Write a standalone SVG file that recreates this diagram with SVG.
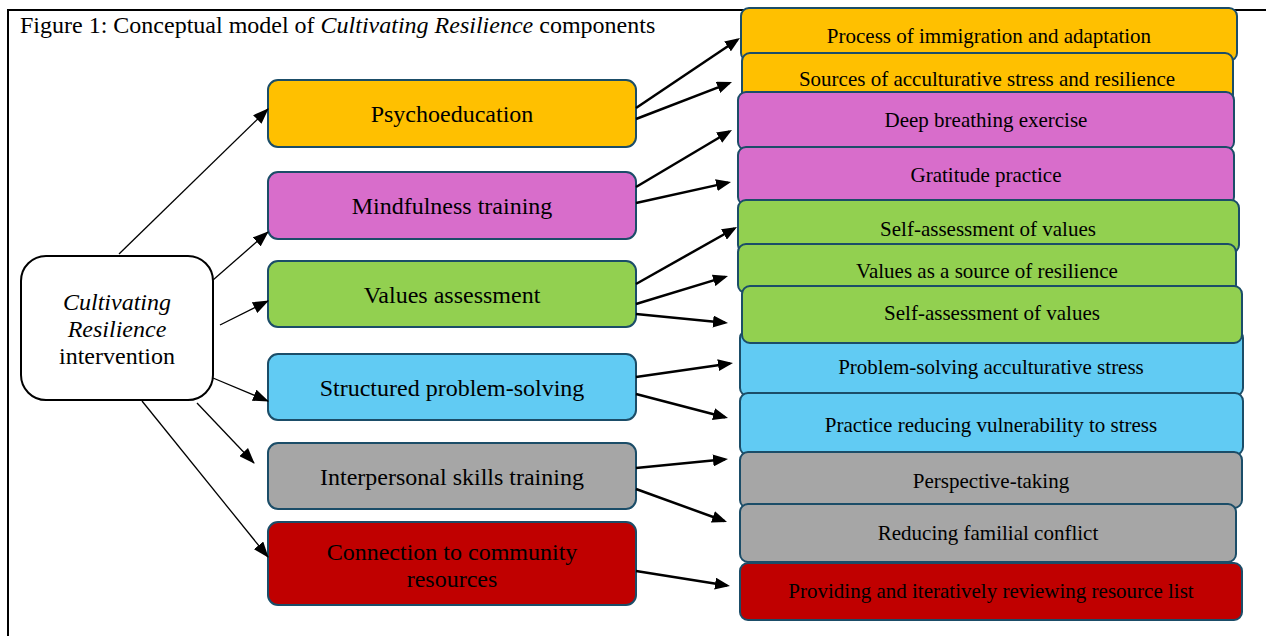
<svg xmlns="http://www.w3.org/2000/svg" width="1266" height="636" viewBox="0 0 1266 636">
  <style>
    text { font-family: "Liberation Serif", "Times New Roman", serif; fill: #000; }
    .title { font-size: 24px; }
    .hub { font-size: 24px; text-anchor: middle; }
    .mid { font-size: 24px; text-anchor: middle; }
    .sub { font-size: 21px; text-anchor: middle; }
    .box { stroke: #1B4D68; stroke-width: 2; }
    .orange { fill: #FFC000; }
    .pink { fill: #D86DCB; }
    .green { fill: #92D050; }
    .blue { fill: #61CBF3; }
    .grey { fill: #A6A6A6; }
    .red { fill: #C00000; }
    .thin { stroke: #000; stroke-width: 1.3; fill: none; marker-end: url(#headThin); }
    .thick { stroke: #000; stroke-width: 2.5; fill: none; marker-end: url(#headThick); }
  </style>
  <defs>
    <marker id="headThin" viewBox="0 0 16 12" refX="15" refY="6" markerWidth="16" markerHeight="12" markerUnits="userSpaceOnUse" orient="auto">
      <path d="M0,0 L16,6 L0,12 z" fill="#000"/>
    </marker>
    <marker id="headThick" viewBox="0 0 15 12" refX="12" refY="6" markerWidth="15" markerHeight="12" markerUnits="userSpaceOnUse" orient="auto">
      <path d="M0,0 L15,6 L0,12 z" fill="#000"/>
    </marker>
  </defs>

  <rect width="1266" height="636" fill="#fff"/>
  <!-- figure frame -->
  <path d="M8,636 V10 H1266" fill="none" stroke="#000" stroke-width="2"/>

  <text class="title" x="20" y="33">Figure 1: Conceptual model of <tspan font-style="italic">Cultivating Resilience</tspan> components</text>

  <!-- central intervention node -->
  <g id="hub">
    <rect x="21" y="256" width="192" height="144" rx="25" fill="#fff" stroke="#000" stroke-width="2"/>
    <text class="hub" x="117" y="310" font-style="italic">Cultivating</text>
    <text class="hub" x="117" y="337" font-style="italic">Resilience</text>
    <text class="hub" x="117" y="364">intervention</text>
  </g>

  <!-- component nodes -->
  <g id="psychoeducation">
    <rect class="box orange" x="268" y="80" width="368" height="67" rx="10"/>
    <text class="mid" x="452" y="122">Psychoeducation</text>
  </g>
  <g id="mindfulness">
    <rect class="box pink" x="268" y="172" width="368" height="67" rx="10"/>
    <text class="mid" x="452" y="214">Mindfulness training</text>
  </g>
  <g id="values">
    <rect class="box green" x="268" y="261" width="368" height="66" rx="10"/>
    <text class="mid" x="452" y="303">Values assessment</text>
  </g>
  <g id="problem-solving">
    <rect class="box blue" x="268" y="354" width="368" height="66" rx="10"/>
    <text class="mid" x="452" y="396">Structured problem-solving</text>
  </g>
  <g id="interpersonal">
    <rect class="box grey" x="268" y="443" width="368" height="66" rx="10"/>
    <text class="mid" x="452" y="485">Interpersonal skills training</text>
  </g>
  <g id="community">
    <rect class="box red" x="268" y="522" width="368" height="83" rx="10"/>
    <text class="mid" x="452" y="560">Connection to community</text>
    <text class="mid" x="452" y="587">resources</text>
  </g>

  <!-- activity nodes (stacked, each overlapping the one above) -->
  <g id="activity-immigration">
    <rect class="box orange" x="741" y="8" width="496" height="53" rx="8"/>
    <text class="sub" x="989" y="43">Process of immigration and adaptation</text>
  </g>
  <g id="activity-sources">
    <rect class="box orange" x="742" y="53" width="491" height="50" rx="8"/>
    <text class="sub" x="987" y="86">Sources of acculturative stress and resilience</text>
  </g>
  <g id="activity-breathing">
    <rect class="box pink" x="738" y="92" width="496" height="58" rx="8"/>
    <text class="sub" x="986" y="127">Deep breathing exercise</text>
  </g>
  <g id="activity-gratitude">
    <rect class="box pink" x="738" y="147" width="496" height="58" rx="8"/>
    <text class="sub" x="986" y="182">Gratitude practice</text>
  </g>
  <g id="activity-self-assessment-1">
    <rect class="box green" x="738" y="200" width="501" height="53" rx="8"/>
    <text class="sub" x="988" y="236">Self-assessment of values</text>
  </g>
  <g id="activity-values-resilience">
    <rect class="box green" x="738" y="244" width="498" height="49" rx="8"/>
    <text class="sub" x="987" y="278">Values as a source of resilience</text>
  </g>
  <g id="activity-problem-solving">
    <rect class="box blue" x="740" y="330" width="503" height="66" rx="8"/>
    <text class="sub" x="991" y="374">Problem-solving acculturative stress</text>
  </g>
  <g id="activity-self-assessment-2">
    <rect class="box green" x="742" y="286" width="500" height="57" rx="8"/>
    <text class="sub" x="992" y="320">Self-assessment of values</text>
  </g>
  <g id="activity-vulnerability">
    <rect class="box blue" x="740" y="393" width="503" height="62" rx="8"/>
    <text class="sub" x="991" y="432">Practice reducing vulnerability to stress</text>
  </g>
  <g id="activity-perspective">
    <rect class="box grey" x="740" y="452" width="502" height="56" rx="8"/>
    <text class="sub" x="991" y="488">Perspective-taking</text>
  </g>
  <g id="activity-familial">
    <rect class="box grey" x="740" y="504" width="496" height="58" rx="8"/>
    <text class="sub" x="988" y="540">Reducing familial conflict</text>
  </g>
  <g id="activity-resources">
    <rect class="box red" x="740" y="563" width="502" height="57" rx="8"/>
    <text class="sub" x="991" y="598">Providing and iteratively reviewing resource list</text>
  </g>

  <!-- connectors -->
  <g id="connectors">
    <line class="thin" x1="119" y1="254" x2="268" y2="109"/>
    <line class="thin" x1="213" y1="280" x2="268" y2="232"/>
    <line class="thin" x1="220" y1="325" x2="268" y2="301"/>
    <line class="thin" x1="213" y1="378" x2="268" y2="401"/>
    <line class="thin" x1="197" y1="403" x2="254" y2="463"/>
    <line class="thin" x1="142" y1="401" x2="268" y2="557"/>

    <line class="thick" x1="636" y1="108" x2="737.5" y2="39.7"/>
    <line class="thick" x1="636" y1="119" x2="729.2" y2="83.1"/>
    <line class="thick" x1="636" y1="187" x2="729.4" y2="131.5"/>
    <line class="thick" x1="636" y1="203" x2="728.1" y2="182.6"/>
    <line class="thick" x1="636" y1="284" x2="734.4" y2="228.5"/>
    <line class="thick" x1="636" y1="304" x2="725.1" y2="276.9"/>
    <line class="thick" x1="636" y1="314" x2="725" y2="322.7"/>
    <line class="thick" x1="636" y1="377" x2="730" y2="363.4"/>
    <line class="thick" x1="636" y1="394" x2="725.1" y2="417.2"/>
    <line class="thick" x1="636" y1="468" x2="725" y2="459.3"/>
    <line class="thick" x1="636" y1="489" x2="724.2" y2="521"/>
    <line class="thick" x1="636" y1="571" x2="727" y2="585.5"/>
  </g>
</svg>
